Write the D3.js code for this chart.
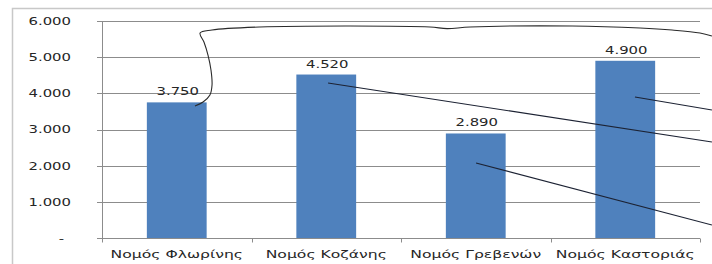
<!DOCTYPE html>
<html>
<head>
<meta charset="utf-8">
<script src="https://cdn.jsdelivr.net/npm/d3@7"></script>
<style>
    body { margin: 0; background: #fff; }
    svg text { font-family: "DejaVu Sans", sans-serif; font-size: 11px; fill: #262626; }
</style>
</head>
<body>
<div id="chart"></div>
<script>
"use strict";

// chart data
var categories = ["Νομός Φλωρίνης", "Νομός Κοζάνης", "Νομός Γρεβενών", "Νομός Καστοριάς"];
var values = [3750, 4520, 2890, 4900];
var yTicks = [0, 1000, 2000, 3000, 4000, 5000, 6000];
var yTickLabels = ["-", "1.000", "2.000", "3.000", "4.000", "5.000", "6.000"];
var valueLabels = ["3.750", "4.520", "2.890", "4.900"];

// hand drawn pen strokes over the chart, as [category position, value]
var strokeBrace = [[0.622, 3649], [0.676, 3760], [0.722, 3954], [0.736, 4230], [0.729, 4645],
    [0.709, 5059], [0.682, 5419], [0.656, 5668], [0.736, 5751], [1.057, 5834], [1.659, 5861],
    [2.194, 5834], [2.308, 5790], [2.462, 5834], [3.144, 5861], [3.599, 5806], [3.813, 5751],
    [4.0, 5668], [4.08, 5585]];
var strokeKozani = [[1.512, 4285], [4.08, 2654]];
var strokeGrevena = [[2.502, 2074], [4.08, 359]];
var strokeKastoria = [[3.565, 3898], [4.08, 3539]];

var width = 712, height = 264;
var margin = { top: 21, right: 12, bottom: 26, left: 102 };
var textStretch = 1.35; // the picture is a bit wider than tall

var svg = d3.select("#chart").append("svg")
    .attr("width", width)
    .attr("height", height);

//outer frame of the chart area
svg.append("path")
    .attr("d", "M12.5," + height + "V8.5H" + width)
    .attr("fill", "none")
    .attr("stroke", "#c8c8c8")
    .attr("stroke-width", 1.5);

var x = d3.scaleBand()
    .domain(categories)
    .range([margin.left, width - margin.right])
    .padding(0);

var xPos = d3.scaleLinear() //category units, for the pen strokes
    .domain([0, categories.length])
    .range([margin.left, width - margin.right]);

var y = d3.scaleLinear()
    .domain([0, 6000])
    .range([height - margin.bottom, margin.top]);

//gridlines
svg.append("g")
    .selectAll("line")
    .data(yTicks.slice(1))
    .enter()
    .append("line")
    .attr("x1", margin.left - 5)
    .attr("x2", width - margin.right)
    .attr("y1", function(d) { return Math.round(y(d)) + 0.5; })
    .attr("y2", function(d) { return Math.round(y(d)) + 0.5; })
    .attr("stroke", "#8c8c8c")
    .attr("stroke-width", 1);

//y axis labels
svg.append("g")
    .selectAll("text")
    .data(yTicks)
    .enter()
    .append("text")
    .attr("text-anchor", "end")
    .attr("dy", "0.36em")
    .attr("transform", function(d) {
        var px = d === 0 ? 64 : 71;
        return "translate(" + px + "," + y(d) + ") scale(" + textStretch + ",1)";
    })
    .text(function(d, i) { return yTickLabels[i]; });

//bars
var barW = x.bandwidth() * 0.4;
svg.append("g")
    .selectAll("rect")
    .data(values)
    .enter()
    .append("rect")
    .attr("x", function(d, i) { return x(categories[i]) + (x.bandwidth() - barW) / 2; })
    .attr("y", function(d) { return y(d); })
    .attr("width", barW)
    .attr("height", function(d) { return y(0) - y(d); })
    .attr("fill", "#4f81bd");

//value labels above the bars
svg.append("g")
    .selectAll("text")
    .data(values)
    .enter()
    .append("text")
    .attr("text-anchor", "middle")
    .attr("transform", function(d, i) {
        return "translate(" + (x(categories[i]) + x.bandwidth() / 2 + 1) + "," + (y(d) - 7) + ") scale(" + textStretch + ",1)";
    })
    .text(function(d, i) { return valueLabels[i]; });

//axes lines
var axisColor = "#8c8c8c";
var x0 = margin.left + 0.5, yBase = Math.round(y(0)) + 0.5;
svg.append("line")
    .attr("x1", x0).attr("x2", x0)
    .attr("y1", y(6000)).attr("y2", yBase)
    .attr("stroke", axisColor);
svg.append("line")
    .attr("x1", margin.left - 5).attr("x2", width - margin.right)
    .attr("y1", yBase).attr("y2", yBase)
    .attr("stroke", axisColor);

//x ticks at the category boundaries
svg.append("g")
    .selectAll("line")
    .data(d3.range(categories.length + 1))
    .enter()
    .append("line")
    .attr("x1", function(d) { return Math.round(xPos(d)) + 0.5; })
    .attr("x2", function(d) { return Math.round(xPos(d)) + 0.5; })
    .attr("y1", yBase)
    .attr("y2", yBase + 4)
    .attr("stroke", axisColor);

//category labels
svg.append("g")
    .selectAll("text")
    .data(categories)
    .enter()
    .append("text")
    .attr("text-anchor", "middle")
    .attr("transform", function(d) {
        return "translate(" + (x(d) + x.bandwidth() / 2) + "," + 258 + ") scale(1.42,1)";
    })
    .text(function(d) { return d; });

//pen strokes drawn on top
var penLine = d3.line()
    .x(function(d) { return xPos(d[0]); })
    .y(function(d) { return y(d[1]); });

svg.append("path")
    .attr("d", penLine.curve(d3.curveCatmullRom)(strokeBrace))
    .attr("fill", "none")
    .attr("stroke", "#2a2a2a")
    .attr("stroke-width", 1.1);

[strokeKozani, strokeGrevena, strokeKastoria].forEach(function(s) {
    svg.append("path")
        .attr("d", d3.line()
            .x(function(d) { return xPos(d[0]); })
            .y(function(d) { return y(d[1]); })(s))
        .attr("fill", "none")
        .attr("stroke", "#1c2233")
        .attr("stroke-width", 1.1);
});
</script>
</body>
</html>
